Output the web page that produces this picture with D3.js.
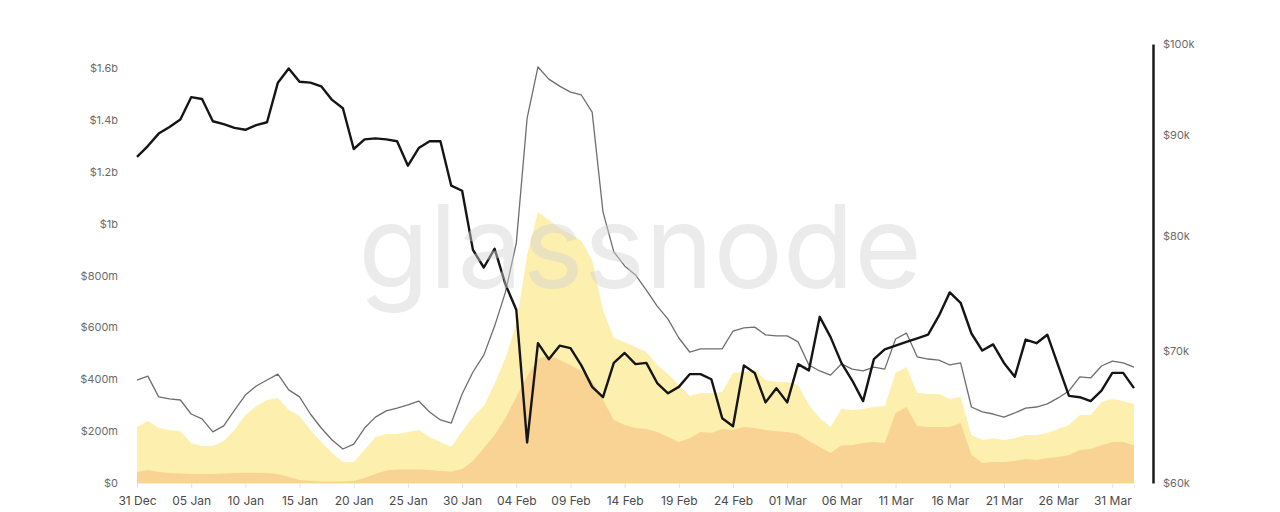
<!DOCTYPE html>
<html>
<head>
<meta charset="utf-8">
<script src="https://cdn.jsdelivr.net/npm/d3@7"></script>
<style>
  body { margin: 0; background: #fff; }
  svg { display: block; font-family: Inter, "Noto Sans", sans-serif; }
</style>
</head>
<body>
<script>
var svgWidth = 1280;
var svgHeight = 512;

// daily dates, 31 Dec 2024 .. 02 Apr 2025
var dates = d3.utcDays(new Date(Date.UTC(2024, 11, 31)), new Date(Date.UTC(2025, 3, 3)));

// thick black line, right axis ($k)
var priceK = [87.7, 88.8, 90.1, 90.8, 91.6, 94.0, 93.8, 91.4, 91.1, 90.7,
  90.5, 91.0, 91.3, 95.6, 97.2, 95.7, 95.6, 95.2, 93.7, 92.8,
  88.5, 89.5, 89.6, 89.5, 89.3, 86.8, 88.6, 89.3, 89.3, 84.8,
  84.3, 78.7, 77.1, 78.8, 75.6, 73.4, 62.9, 70.6, 69.3, 70.4,
  70.2, 68.8, 67.1, 66.3, 69.0, 69.8, 68.9, 69.0, 67.4, 66.6,
  67.1, 68.1, 68.1, 67.7, 64.7, 64.1, 68.8, 68.2, 65.9, 67.0,
  65.9, 68.9, 68.4, 72.8, 71.1, 69.0, 67.6, 66.0, 69.3, 70.1,
  70.4, 70.7, 71.0, 71.3, 72.9, 74.9, 74.0, 71.4, 70.0, 70.5,
  69.0, 67.9, 70.9, 70.6, 71.3, 68.8, 66.4, 66.3, 66.0, 66.8,
  68.2, 68.2, 67.0];

// thin grey line, left axis ($m)
var totalM = [397, 412, 332, 324, 320, 266, 247, 197, 220, 281,
  339, 374, 397, 420, 359, 332, 266, 212, 166, 131,
  150, 212, 254, 278, 289, 301, 316, 274, 243, 231,
  343, 428, 493, 605, 736, 925, 1407, 1604, 1557, 1530,
  1507, 1496, 1430, 1045, 891, 837, 802, 744, 682, 632,
  559, 505, 517, 517, 517, 586, 598, 601, 571, 567,
  567, 544, 455, 432, 416, 459, 439, 432, 447, 439,
  555, 578, 486, 478, 474, 455, 463, 293, 274, 266,
  254, 270, 289, 293, 305, 328, 355, 409, 405, 451,
  470, 463, 447];

// light yellow area, left axis ($m)
var yellowM = [216, 239, 212, 204, 200, 154, 143, 143, 162, 204,
  262, 297, 320, 328, 281, 258, 204, 158, 116, 81,
  81, 127, 177, 189, 189, 197, 204, 177, 158, 139,
  200, 254, 297, 382, 482, 613, 879, 1045, 1014, 983,
  960, 933, 860, 667, 559, 544, 524, 505, 455, 420,
  378, 335, 347, 347, 351, 424, 428, 436, 397, 389,
  389, 378, 301, 251, 216, 285, 281, 285, 293, 297,
  424, 447, 347, 343, 343, 324, 332, 185, 166, 173,
  166, 173, 185, 185, 193, 208, 224, 262, 262, 312,
  324, 316, 305];

// orange area, left axis ($m)
var orangeM = [42, 50, 42, 39, 37, 35, 35, 35, 37, 39,
  40, 40, 39, 35, 23, 12, 8, 6, 6, 6,
  8, 19, 35, 48, 52, 52, 52, 50, 46, 44,
  54, 85, 135, 185, 251, 332, 412, 478, 493, 474,
  455, 432, 393, 320, 243, 224, 212, 208, 197, 177,
  158, 173, 197, 193, 208, 204, 216, 212, 204, 200,
  197, 189, 162, 139, 116, 146, 146, 154, 158, 154,
  270, 293, 220, 216, 216, 216, 231, 108, 77, 81,
  81, 85, 93, 89, 96, 100, 108, 127, 131, 146,
  158, 158, 146];

var leftTicks = [0, 200, 400, 600, 800, 1000, 1200, 1400, 1600];
var leftTickLabels = ["$0", "$200m", "$400m", "$600m", "$800m", "$1b", "$1.2b", "$1.4b", "$1.6b"];
var rightTicks = [60, 70, 80, 90, 100];
var rightTickLabels = ["$60k", "$70k", "$80k", "$90k", "$100k"];

var svg = d3.select("body")
  .append("svg")
  .attr("width", svgWidth)
  .attr("height", svgHeight);

// scales
var x = d3.scaleUtc()
  .domain([dates[0], dates[dates.length - 1]])
  .range([137, 1134]);

var yLeft = d3.scaleLinear()
  .domain([0, 1600])
  .range([483, 68]);

var yRight = d3.scaleLog()
  .domain([60, 100])
  .range([483, 44]);

var idx = d3.range(dates.length);

// areas
var yellowArea = d3.area()
  .x(function(i) { return x(dates[i]); })
  .y0(yLeft(0))
  .y1(function(i) { return yLeft(yellowM[i]); });

var orangeArea = d3.area()
  .x(function(i) { return x(dates[i]); })
  .y0(yLeft(0))
  .y1(function(i) { return yLeft(orangeM[i]); });

svg.append("path")
  .datum(idx)
  .attr("d", yellowArea)
  .attr("fill", "#fdefae");

svg.append("path")
  .datum(idx)
  .attr("d", orangeArea)
  .attr("fill", "#f9d393");

// grey line
svg.append("path")
  .datum(idx)
  .attr("d", d3.line()
    .x(function(i) { return x(dates[i]); })
    .y(function(i) { return yLeft(totalM[i]); }))
  .attr("fill", "none")
  .attr("stroke", "#6e6e6e")
  .attr("stroke-width", 1.3)
  .attr("stroke-linejoin", "round");

// black line
svg.append("path")
  .datum(idx)
  .attr("d", d3.line()
    .x(function(i) { return x(dates[i]); })
    .y(function(i) { return yRight(priceK[i]); }))
  .attr("fill", "none")
  .attr("stroke", "#151515")
  .attr("stroke-width", 2.4)
  .attr("stroke-linejoin", "round");

// watermark
svg.append("text")
  .attr("x", 640)
  .attr("y", 288)
  .attr("text-anchor", "middle")
  .attr("font-size", 116)
  .attr("font-weight", 400)
  .attr("fill", "#d2d2d2")
  .attr("fill-opacity", 0.45)
  .text("glassnode");

// x axis
var xTicks = dates.filter(function(d, i) { return i % 5 === 0; });
var xAxis = d3.axisBottom(x)
  .tickValues(xTicks)
  .tickFormat(d3.utcFormat("%d %b"))
  .tickSize(5)
  .tickPadding(8);

var gX = svg.append("g")
  .attr("transform", "translate(0,483)")
  .call(xAxis);
gX.select(".domain").attr("stroke", "#eeeeee");
gX.selectAll(".tick line").attr("stroke", "#e2e2e2");
gX.selectAll(".tick text")
  .attr("fill", "#4a4a4a")
  .attr("font-size", 12)
  .attr("font-family", "Inter, 'Noto Sans', sans-serif");

// left axis
var yAxisLeft = d3.axisLeft(yLeft)
  .tickValues(leftTicks)
  .tickFormat(function(d, i) { return leftTickLabels[i]; })
  .tickSize(0)
  .tickPadding(0);

var gYL = svg.append("g")
  .attr("transform", "translate(118,0)")
  .call(yAxisLeft);
gYL.select(".domain").remove();
gYL.selectAll(".tick text")
  .attr("fill", "#6b6b6b")
  .attr("font-size", 11)
  .attr("font-family", "Inter, 'Noto Sans', sans-serif");

// right axis
var yAxisRight = d3.axisRight(yRight)
  .tickValues(rightTicks)
  .tickFormat(function(d, i) { return rightTickLabels[i]; })
  .tickSize(0)
  .tickPadding(10);

var gYR = svg.append("g")
  .attr("transform", "translate(1153,0)")
  .call(yAxisRight);
gYR.select(".domain")
  .attr("stroke", "#1a1a1a")
  .attr("stroke-width", 2.5);
gYR.selectAll(".tick text")
  .attr("fill", "#6b6b6b")
  .attr("font-size", 11)
  .attr("font-family", "Inter, 'Noto Sans', sans-serif");
</script>
</body>
</html>
